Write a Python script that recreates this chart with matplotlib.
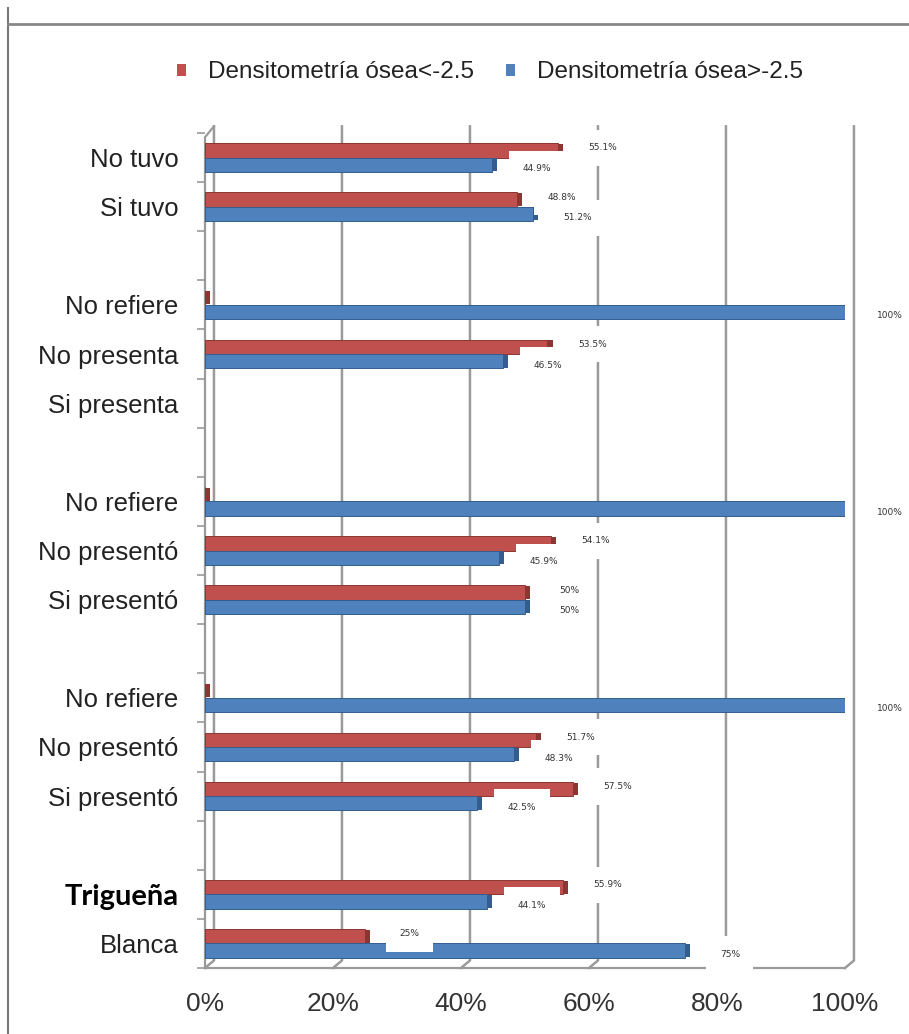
import matplotlib.pyplot as plt
import matplotlib.lines as mlines
import numpy as np

# categorias de arriba hacia abajo ('' = separacion entre grupos)
categorias = ['No tuvo', 'Si tuvo', '',
              'No refiere', 'No presenta', 'Si presenta', '',
              'No refiere', 'No presentó', 'Si presentó', '',
              'No refiere', 'No presentó', 'Si presentó', '',
              'Trigueña', 'Blanca']
menor = [55.1, 48.8, np.nan,
         0, 53.5, np.nan, np.nan,
         0, 54.1, 50, np.nan,
         0, 51.7, 57.5, np.nan,
         55.9, 25]
mayor = [44.9, 51.2, np.nan,
         100, 46.5, np.nan, np.nan,
         100, 45.9, 50, np.nan,
         100, 48.3, 42.5, np.nan,
         44.1, 75]
xticks = [0, 20, 40, 60, 80, 100]
xticklabels = ['0%', '20%', '40%', '60%', '80%', '100%']

rojo, rojo_osc = '#C0504D', '#8C3533'
azul, azul_osc = '#4F81BD', '#345D8E'
gris = '#9A9A9A'

fig = plt.figure(figsize=(9.09, 10.34), dpi=100, facecolor='w')
ax = fig.add_axes([205/909, 1 - 968/1034, 640/909, 835/1034])

y = np.arange(len(categorias))
h = 0.29
menor = np.array(menor, dtype=float)
mayor = np.array(mayor, dtype=float)

b1 = ax.barh(y - h/2, menor, height=h, color=rojo, edgecolor=rojo_osc,
             linewidth=0.7, label='Densitometría ósea<-2.5', zorder=3)
b2 = ax.barh(y + h/2, mayor, height=h, color=azul, edgecolor=azul_osc,
             linewidth=0.7, label='Densitometría ósea>-2.5', zorder=3)
# remate oscuro al final de cada barra
ax.barh(y - h/2, 0.8, left=menor, height=h*0.9, color=rojo_osc, zorder=3)
ax.barh(y + h/2, 0.8, left=mayor, height=h*0.9, color=azul_osc, zorder=3)

# etiquetas de valores con fondo blanco
for yi, v in zip(y, menor):
    if np.isnan(v) or v == 0:
        continue
    ax.text(v + 7, yi - h/2 - 0.05, f'{v:g}%', fontsize=6.5, color='#333333',
            ha='center', va='center', zorder=5,
            bbox=dict(boxstyle='square,pad=1.5', fc='white', ec='none'))
for yi, v in zip(y, mayor):
    if np.isnan(v) or v == 0:
        continue
    ax.text(v + 7, yi + h/2 + 0.08, f'{v:g}%', fontsize=6.5, color='#333333',
            ha='center', va='center', zorder=5,
            bbox=dict(boxstyle='square,pad=1.5', fc='white', ec='none'))

ax.set_xlim(0, 100)
ax.set_ylim(len(categorias) - 0.5, -0.5)
for s in ax.spines.values():
    s.set_visible(False)

# pared del fondo y piso en perspectiva
tr = ax.get_xaxis_transform()
d = 1.4
for v in xticks:
    ax.plot([v + d, v + d, v], [1.008, 0.009, 0], transform=tr, color=gris,
            lw=1.8, clip_on=False, zorder=1)
ax.plot([0, 100], [0, 0], transform=tr, color=gris, lw=1.6, clip_on=False, zorder=1)
ax.plot([0, 0, d], [0, 0.995, 1.008], transform=tr, color=gris, lw=1.6,
        clip_on=False, zorder=1)

ax.set_xticks(xticks)
ax.set_xticklabels(xticklabels, fontsize=19, family='Liberation Sans', color='#333333')
ax.tick_params(axis='x', length=0, pad=17)

ax.set_yticks(y)
ax.set_yticklabels(categorias, fontsize=18.5, family='Liberation Sans', color='#222222')
ax.set_yticks(np.arange(-0.5, len(categorias), 1), minor=True)
ax.tick_params(axis='y', which='major', length=0, pad=19)
ax.tick_params(axis='y', which='minor', length=6, width=1.2, color=gris)
for lab in ax.get_yticklabels():
    if lab.get_text() == 'Trigueña':
        lab.set_family('Lato')
        lab.set_fontweight('bold')
        lab.set_fontsize(21)
        lab.set_color('black')

leg = fig.legend(handles=[b1, b2], loc='center', bbox_to_anchor=(0.539, 0.930), ncol=2,
                 frameon=False, prop={'family': 'Liberation Sans', 'size': 17.5},
                 handlelength=0.4, handleheight=0.4, handletextpad=0.9,
                 columnspacing=1.3, labelcolor='#222222')
for p in leg.get_patches():
    p.set_linewidth(0)

# marco del recuadro
fig.add_artist(mlines.Line2D([8/909, 8/909], [0, 1 - 8/1034], color='#777777', lw=1.5))
fig.add_artist(mlines.Line2D([8/909, 1], [1 - 24/1034, 1 - 24/1034], color='#888888', lw=2))

fig.savefig('out.png', dpi=fig.dpi)
